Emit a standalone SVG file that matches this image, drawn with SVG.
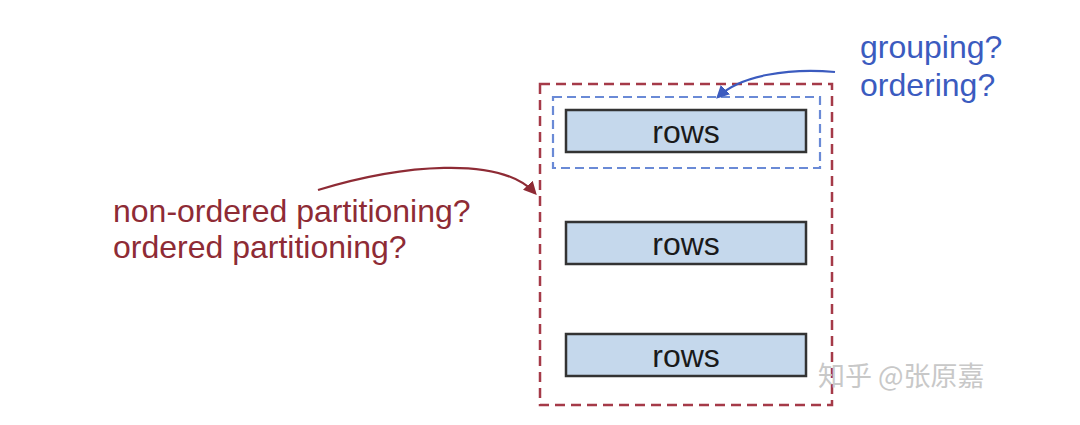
<svg xmlns="http://www.w3.org/2000/svg" width="1080" height="425" viewBox="0 0 1080 425">
<style>
.row{fill:#c5d8ec;stroke:#333;stroke-width:2.5}
.rt{font-family:"Liberation Sans",Arial,sans-serif;font-size:32px;fill:#1a1a1a;text-anchor:middle}
.red{font-family:"Liberation Sans",Arial,sans-serif;font-size:32px;fill:#8e2b35}
.blue{font-family:"Liberation Sans",Arial,sans-serif;font-size:32px;fill:#3b5bbf}
.wm{font-family:"Noto Sans CJK SC","Liberation Sans",sans-serif;font-size:27px;fill:#c8c8c8}
</style>
<defs>
<marker id="ar" viewBox="0 0 10 10" refX="8" refY="5" markerWidth="6" markerHeight="6" orient="auto"><path d="M0,0 L10,5 L0,10 z" fill="#8e2b35"/></marker>
<marker id="ab" viewBox="0 0 10 10" refX="8" refY="5" markerWidth="6" markerHeight="6" orient="auto"><path d="M0,0 L10,5 L0,10 z" fill="#3b5bbf"/></marker>
</defs>
<rect width="1080" height="425" fill="#fff"/>
<g id="partition"><rect x="540" y="84" width="292" height="321" fill="none" stroke="#a53a48" stroke-width="2.5" stroke-dasharray="10,6"/></g>
<g id="group"><rect x="553" y="97" width="267" height="71" fill="none" stroke="#6a8ad6" stroke-width="2.2" stroke-dasharray="9,5"/></g>
<g id="rows1"><rect class="row" x="566" y="110" width="240" height="42"/><text class="rt" x="686" y="143">rows</text></g>
<g id="rows2"><rect class="row" x="566" y="222" width="240" height="42"/><text class="rt" x="686" y="255">rows</text></g>
<g id="rows3"><rect class="row" x="566" y="334" width="240" height="42"/><text class="rt" x="686" y="367">rows</text></g>
<g id="label-red"><text class="red" x="113" y="222">non-ordered partitioning?</text><text class="red" x="113" y="258">ordered partitioning?</text></g>
<g id="label-blue"><text class="blue" x="860" y="58">grouping?</text><text class="blue" x="860" y="96">ordering?</text></g>
<g id="connectors">
<path d="M318,190 C400,165 500,155 535,193" fill="none" stroke="#8e2b35" stroke-width="2.2" marker-end="url(#ar)"/>
<path d="M835,72 C790,68 740,75 718,97" fill="none" stroke="#3b5bbf" stroke-width="2.2" marker-end="url(#ab)"/>
</g>
<text class="wm" x="818" y="386">知乎 @张原嘉</text>
</svg>
